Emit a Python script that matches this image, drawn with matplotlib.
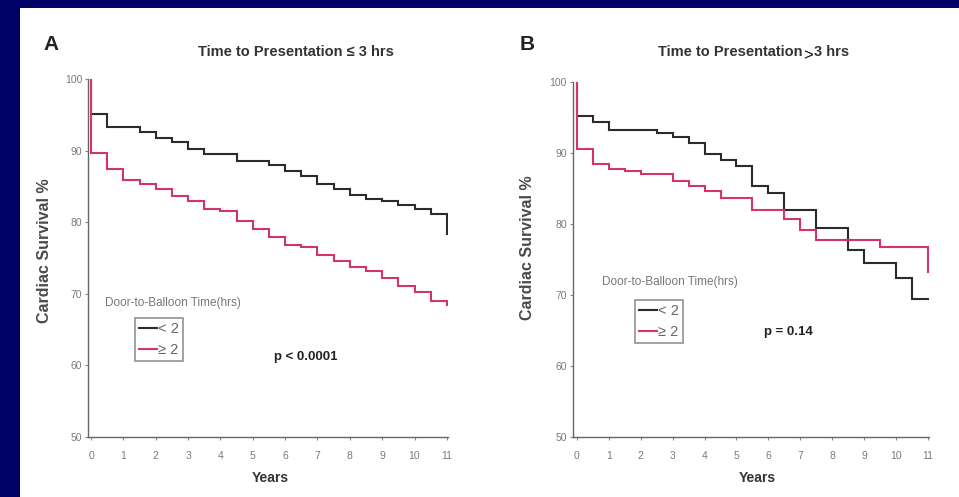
import matplotlib
matplotlib.use('Agg')
import matplotlib.pyplot as plt
from matplotlib.patches import Rectangle

plt.rcParams['font.family'] = ['Liberation Sans', 'DejaVu Sans']

# ---------------- data ----------------
years_ticks = list(range(0, 12))
survival_ticks = [50, 60, 70, 80, 90, 100]

# Panel A: Time to presentation <= 3 hrs
a_lt2_t = [0, 0.5, 1.5, 2.0, 2.5, 3.0, 3.5, 4.5, 5.5, 6.0, 6.5, 7.0, 7.5, 8.0, 8.5, 9.0, 9.5, 10.0, 10.5]
a_lt2_s = [95.1, 93.3, 92.6, 91.7, 91.2, 90.2, 89.5, 88.6, 88.0, 87.2, 86.4, 85.3, 84.6, 83.8, 83.3, 82.9, 82.4, 81.9, 81.2]
a_lt2_end = 78.4
a_ge2_t = [0, 0.5, 1.0, 1.5, 2.0, 2.5, 3.0, 3.5, 4.0, 4.5, 5.0, 5.5, 6.0, 6.5, 7.0, 7.5, 8.0, 8.5, 9.0, 9.5, 10.0, 10.5]
a_ge2_s = [89.7, 87.4, 85.9, 85.3, 84.6, 83.7, 82.9, 81.9, 81.6, 80.1, 79.0, 77.9, 76.8, 76.5, 75.4, 74.6, 73.7, 73.2, 72.2, 71.1, 70.3, 69.0]
a_ge2_end = 68.5

# Panel B: Time to presentation > 3 hrs
b_lt2_t = [0, 0.5, 1.0, 2.5, 3.0, 3.5, 4.0, 4.5, 5.0, 5.5, 6.0, 6.5, 7.5, 8.5, 9.0, 10.0, 10.5]
b_lt2_s = [95.2, 94.4, 93.3, 92.8, 92.2, 91.4, 89.9, 89.0, 88.1, 85.4, 84.3, 82.0, 79.4, 76.3, 74.5, 72.4, 69.5]
b_lt2_end = 69.5
b_ge2_t = [0, 0.5, 1.0, 1.5, 2.0, 3.0, 3.5, 4.0, 4.5, 5.5, 6.5, 7.0, 7.5, 9.5]
b_ge2_s = [90.5, 88.5, 87.8, 87.4, 87.0, 86.0, 85.4, 84.7, 83.6, 82.0, 80.7, 79.2, 77.8, 76.7]
b_ge2_end = 73.3

legend_labels = ['< 2', '\u2265 2']
p_a = 'p < 0.0001'
p_b = 'p = 0.14'

# ---------------- style ----------------
W, H = 959, 497
NAVY = '#000066'
BLACK = '#2b2b2b'
RED = '#d4346a'
GRAY = '#7a7a7a'


def fx(x):
    return x / W


def fy(y):
    return 1 - y / H


fig = plt.figure(figsize=(W / 100, H / 100), dpi=100)
fig.patch.set_facecolor(NAVY)
fig.add_artist(Rectangle((fx(20), 0), 1 - fx(20), fy(8), transform=fig.transFigure,
                         facecolor='white', edgecolor='none', zorder=0))


def km(ax, t, s, end, color):
    xs = [0] + list(t) + [11, 11]
    ys = [100] + list(s) + [s[-1], end]
    ln, = ax.step(xs, ys, where='post', color=color, lw=1.5, solid_joinstyle='miter')
    return ln


def style_axes(ax, xl):
    ax.set_xlim(xl, 11.02)
    ax.set_ylim(50, 100)
    ax.patch.set_alpha(0)
    for sp in ['top', 'right']:
        ax.spines[sp].set_visible(False)
    for sp in ['left', 'bottom']:
        ax.spines[sp].set_color('#666666')
        ax.spines[sp].set_linewidth(1.0)
    ax.set_xticks(years_ticks)
    ax.set_yticks(survival_ticks)
    ax.tick_params(axis='both', colors='#888888', labelcolor=GRAY, labelsize=7.5,
                   length=2.5, width=0.8)
    ax.tick_params(axis='x', pad=7.5)
    ax.tick_params(axis='y', pad=1.5)


def panel(axrect, xl, t1, s1, e1, t2, s2, e2):
    ax = fig.add_axes(axrect)
    style_axes(ax, xl)
    l1 = km(ax, t1, s1, e1, BLACK)
    l2 = km(ax, t2, s2, e2, RED)
    return ax, l1, l2


# Panel A
axA, la1, la2 = panel([fx(87.8), 60 / H, (447.5 - 87.8) / W, 358 / H], -0.1,
                      a_lt2_t, a_lt2_s, a_lt2_end, a_ge2_t, a_ge2_s, a_ge2_end)
# Panel B
axB, lb1, lb2 = panel([fx(572.5), 60 / H, (928.5 - 572.5) / W, 355 / H], -0.14,
                      b_lt2_t, b_lt2_s, b_lt2_end, b_ge2_t, b_ge2_s, b_ge2_end)


def legend(ax, h1, h2, x, y):
    lg = ax.legend([h1, h2], legend_labels, loc='upper left', bbox_to_anchor=(fx(x), fy(y)),
                   bbox_transform=fig.transFigure, frameon=True, fancybox=False,
                   edgecolor='#777777', handlelength=1.2, handletextpad=0.05, borderpad=0.3,
                   labelspacing=0.45, fontsize=10.5, borderaxespad=0)
    lg.get_frame().set_linewidth(1.2)
    for tx in lg.get_texts():
        tx.set_color('#666666')


legend(axA, la1, la2, 135, 318)
legend(axB, lb1, lb2, 635, 300)

# Texts
def t(x, y, s, **kw):
    fig.text(fx(x), fy(y), s, ha=kw.pop('ha', 'center'), va=kw.pop('va', 'center'), **kw)


t(51, 44, 'A', fontsize=15, fontweight='bold', color='#222222')
t(527, 44, 'B', fontsize=15, fontweight='bold', color='#222222')
t(296, 52, 'Time to Presentation \u2264 3 hrs', fontsize=10.5, fontweight='bold', color='#333333')
t(802, 52, 'Time to Presentation', fontsize=10.5, fontweight='bold', color='#333333', ha='right')
t(808, 56, '>', fontsize=12, color='#111111')
t(814, 52, '3 hrs', fontsize=10.5, fontweight='bold', color='#333333', ha='left')

t(45, 251, 'Cardiac Survival %', fontsize=11.5, fontweight='bold', color='#4a4a4a', rotation=90)
t(527, 248, 'Cardiac Survival %', fontsize=11.5, fontweight='bold', color='#4a4a4a', rotation=90)

t(270, 478, 'Years', fontsize=10, fontweight='bold', color='#333333')
t(757, 478, 'Years', fontsize=10, fontweight='bold', color='#333333')

t(173, 303, 'Door-to-Balloon Time(hrs)', fontsize=8.5, color='#777777')
t(670, 282, 'Door-to-Balloon Time(hrs)', fontsize=8.5, color='#777777')

t(306, 357, p_a, fontsize=9.5, fontweight='bold', color='#222222')
t(788, 332, p_b, fontsize=9.5, fontweight='bold', color='#222222')

fig.savefig('out.png', dpi=100, facecolor=fig.get_facecolor())
